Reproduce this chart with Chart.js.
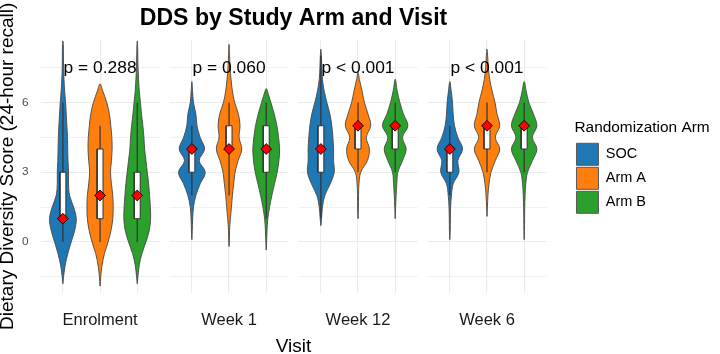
<!DOCTYPE html>
<html>
<head>
<meta charset="utf-8">
<script src="https://cdn.jsdelivr.net/npm/chart.js@4.4.1/dist/chart.umd.min.js"></script>
<style>
  html, body { margin: 0; padding: 0; background: #fff; }
  #wrap { width: 720px; height: 354px; }
</style>
</head>
<body>
<div id="wrap"><canvas id="chart"></canvas></div>
<script>
// ── DATA ──────────────────────────────────────────────────────────────────────
const visits  = ['Enrolment', 'Week 1', 'Week 12', 'Week 6'];
const arms    = ['SOC', 'Arm A', 'Arm B'];
const pLabels = ['p = 0.288', 'p = 0.060', 'p < 0.001', 'p < 0.001'];
const pLabelY = 7.5;
const yTicks  = [-1.5, 0, 1.5, 3, 4.5, 6, 7.5];
const yLabelled = [0, 3, 6];

// box plot stats, [arm][visit]
const medians = [[1, 4, 4, 4], [2, 4, 5, 5], [2, 4, 5, 5]];
const q1      = [[1, 3, 3, 3], [1, 4, 4, 4], [1, 3, 4, 4]];
const q3      = [[3, 4, 5, 4], [4, 5, 5, 5], [3, 5, 5, 5]];
const whiskLo = [[0, 2, 1, 2], [0, 2, 3, 3], [0, 1, 3, 3]];
const whiskHi = [[6, 5, 8, 5], [5, 6, 6, 6], [6, 6, 6, 6]];

// violin extents (tail ends), [arm][visit]
const tailLo = [[-1.8, 0.1, 0.7, 0.1], [-1.9, -0.2, 1.0, 1.1], [-1.8, -0.35, 1.0, 0.1]];
const tailHi = [[8.65, 6.9, 8.3, 6.9], [6.8, 8.5, 7.3, 8.3], [8.65, 6.6, 7.0, 6.9]];

// relative violin width read at each y level, [arm][visit][level]
const densityY = [-2, -1.5, -1, -0.5, 0, 0.5, 1, 1.5, 2, 2.5, 3, 3.5, 4, 4.5, 5, 5.5, 6, 6.5, 7, 7.5, 8, 8.5];
const densSOC = [
  [0, .05, .17, .37, .62, .88, 1.0, .8, .5, .42, .42, .38, .36, .34, .3, .25, .2, .13, .08, .05, .04, .03],
  [0, 0, 0, 0, .02, .03, .06, .12, .3, .62, 1.0, .55, .95, .62, .38, .3, .12, .05, 0, 0, 0, 0],
  [0, 0, 0, 0, 0, 0, .05, .12, .3, .7, 1.0, .95, .95, .9, .82, .68, .45, .25, .12, .07, .04, 0],
  [0, 0, 0, 0, .02, .03, .04, .06, .12, .25, .68, .6, .95, .6, .35, .25, .2, .1, 0, 0, 0, 0]
];
const densA = [
  [0, .05, .15, .33, .6, .82, .95, .98, .95, .85, .78, .85, .9, .88, .8, .7, .5, .2, 0, 0, 0, 0],
  [0, 0, 0, 0, .02, .04, .1, .18, .25, .35, .45, .68, .95, .75, .82, .7, .42, .25, .15, .08, .04, 0],
  [0, 0, 0, 0, 0, 0, 0, .03, .04, .07, .2, .7, .85, .62, .95, .75, .48, .3, .1, 0, 0, 0],
  [0, 0, 0, 0, 0, 0, 0, .03, .07, .15, .3, .62, .95, .62, .95, .75, .6, .38, .2, .1, .05, 0]
];
const densB = [
  [0, .05, .15, .35, .65, .9, 1.0, .98, .92, .85, .75, .65, .55, .5, .42, .32, .24, .15, .1, .06, .04, .02],
  [0, 0, 0, 0, .03, .06, .12, .25, .42, .62, .82, .95, 1.0, .92, .8, .6, .35, .08, 0, 0, 0, 0],
  [0, 0, 0, 0, 0, 0, 0, .03, .07, .12, .2, .55, .82, .55, .95, .62, .35, .15, 0, 0, 0, 0],
  [0, 0, 0, 0, 0, .02, .03, .04, .07, .12, .25, .62, .95, .62, .95, .7, .35, .15, 0, 0, 0, 0]
];
const densities = [densSOC, densA, densB];

// ── STYLE / LAYOUT ────────────────────────────────────────────────────────────
const armColors   = ['#1f77b4', '#ff7f0e', '#2ca02c'];
const PANEL_W     = 3.2;   // discrete x range 0.4..3.6 per facet
const GAP         = 0.27;  // spacing between facets
const VIOLIN_HALF = 0.36;
const BOX_HALF    = 0.08;
const FONT        = "'Liberation Sans', Arial, sans-serif";

const armX = (v, a) => v * (PANEL_W + GAP) + 0.6 + a;
const X_MAX = 3 * (PANEL_W + GAP) + PANEL_W;

// ── DATASETS ──────────────────────────────────────────────────────────────────
const datasets = [];

// diamonds at the median (drawn on top: lowest order)
const diamondPts = [];
visits.forEach((v, vi) => arms.forEach((a, ai) => diamondPts.push({ x: armX(vi, ai), y: medians[ai][vi] })));
datasets.push({
  label: 'median', data: diamondPts, showLine: false, order: 1,
  pointStyle: 'rectRot', pointRadius: 5.4, pointBackgroundColor: '#ff0000',
  pointBorderColor: '#000', pointBorderWidth: 0.9
});

visits.forEach((v, vi) => {
  arms.forEach((a, ai) => {
    const cx = armX(vi, ai);

    // violin outline: bottom tip, right side up, top tip, left side down
    const dens = densities[ai][vi];
    const lo = tailLo[ai][vi], hi = tailHi[ai][vi];
    const right = [], left = [];
    densityY.forEach((y, i) => {
      if (y > lo && y < hi) {
        right.push({ x: cx + dens[i] * VIOLIN_HALF, y });
        left.unshift({ x: cx - dens[i] * VIOLIN_HALF, y });
      }
    });
    datasets.push({
      label: a + ' ' + v, order: 4,
      data: [{ x: cx, y: lo }, ...right, { x: cx, y: hi }, ...left, { x: cx, y: lo }],
      fill: 'shape', backgroundColor: armColors[ai],
      borderColor: '#474747', borderWidth: 0.9, tension: 0.35, pointRadius: 0
    });

    // whisker
    datasets.push({
      label: 'whisker', order: 3,
      data: [{ x: cx, y: whiskLo[ai][vi] }, { x: cx, y: whiskHi[ai][vi] }],
      borderColor: '#333', borderWidth: 1.2, pointRadius: 0, fill: false
    });

    // box
    const b0 = q1[ai][vi], b1 = q3[ai][vi];
    datasets.push({
      label: 'box', order: 2,
      data: [
        { x: cx - BOX_HALF, y: b0 }, { x: cx + BOX_HALF, y: b0 },
        { x: cx + BOX_HALF, y: b1 }, { x: cx - BOX_HALF, y: b1 },
        { x: cx - BOX_HALF, y: b0 }
      ],
      fill: 'shape', backgroundColor: '#fff',
      borderColor: '#333', borderWidth: 1, tension: 0, pointRadius: 0
    });
  });
});

// ── PLUGINS ───────────────────────────────────────────────────────────────────
// blank the facet gaps so grid lines stay inside each panel
const panelGaps = {
  id: 'panelGaps',
  beforeDatasetsDraw(chart) {
    const { ctx, chartArea: { top, bottom }, scales: { x } } = chart;
    ctx.save();
    ctx.fillStyle = '#fff';
    for (let k = 0; k < visits.length - 1; k++) {
      const x0 = x.getPixelForValue(k * (PANEL_W + GAP) + PANEL_W);
      const x1 = x.getPixelForValue((k + 1) * (PANEL_W + GAP));
      ctx.fillRect(x0, top - 1, x1 - x0, bottom - top + 2);
    }
    ctx.restore();
  }
};

// let the legend box run to the canvas edge so its title is not clipped
const legendToEdge = {
  id: 'legendToEdge',
  afterLayout(chart) {
    const lg = chart.legend;
    if (lg) { lg.right = chart.width; lg.width = lg.right - lg.left; }
  }
};

const pValueText = {
  id: 'pValueText',
  afterDatasetsDraw(chart) {
    const { ctx, scales: { x, y } } = chart;
    ctx.save();
    ctx.font = `17.4px ${FONT}`;
    ctx.fillStyle = '#000';
    ctx.textAlign = 'center';
    ctx.textBaseline = 'middle';
    pLabels.forEach((t, vi) => ctx.fillText(t, x.getPixelForValue(armX(vi, 1)), y.getPixelForValue(pLabelY) + 1));
    ctx.restore();
  }
};

// ── CHART ─────────────────────────────────────────────────────────────────────
Chart.defaults.font.family = FONT;
const armTicks = [];
visits.forEach((v, vi) => arms.forEach((a, ai) => armTicks.push(armX(vi, ai))));

new Chart(document.getElementById('chart'), {
  type: 'line',
  data: { datasets },
  plugins: [panelGaps, legendToEdge, pValueText],
  options: {
    responsive: true, maintainAspectRatio: false, animation: false, events: [],
    layout: { padding: { left: 0, right: 64, top: 0, bottom: 0 } },
    scales: {
      x: {
        type: 'linear', min: 0, max: X_MAX,
        afterBuildTicks: s => { s.ticks = armTicks.map(value => ({ value })); },
        afterFit: s => { s.height = 60.7; },
        grid: { color: '#ebebeb', lineWidth: 1.1, drawTicks: false },
        border: { display: false },
        ticks: {
          autoSkip: false, maxRotation: 0, padding: 17,
          color: '#1a1a1a', font: { size: 16.5 },
          callback: (val, i) => (i % 3 === 1 ? visits[Math.floor(i / 3)] : '')
        },
        title: { display: true, text: 'Visit', color: '#000', font: { size: 19, lineHeight: 0.75 }, padding: 0 }
      },
      y: {
        type: 'linear', min: -2.21, max: 8.72,
        afterBuildTicks: s => { s.ticks = yTicks.map(value => ({ value })); },
        afterFit: s => { s.width = 40.6; },
        grid: {
          color: '#ebebeb', drawTicks: false,
          lineWidth: c => (yLabelled.includes(c.tick.value) ? 1.1 : 0.7)
        },
        border: { display: false },
        ticks: {
          padding: 12, color: '#4d4d4d', font: { size: 11.8 },
          callback: v => (yLabelled.includes(v) ? String(v) : '')
        },
        title: {
          display: true, text: 'Dietary Diversity Score (24-hour recall)', color: '#000',
          font: { size: 19, lineHeight: 0.78 }, padding: 0
        }
      },
      yPad: {
        type: 'linear', position: 'right', display: true,
        grid: { display: false }, border: { display: false }, ticks: { display: false },
        afterFit: s => { s.width = 28; }
      }
    },
    plugins: {
      tooltip: { enabled: false },
      title: {
        display: true, text: 'DDS by Study Arm and Visit', fullSize: false,
        color: '#000', font: { size: 23.1, weight: 'bold' }, padding: { top: 4.6, bottom: 7 }
      },
      legend: {
        position: 'right', fullSize: false, align: 'center',
        title: {
          display: true, text: 'Randomization Arm', position: 'start', color: '#000',
          font: { size: 15.4 }, padding: { top: 2.75, bottom: 2.75 }
        },
        labels: {
          boxWidth: 22, boxHeight: 22, padding: 2, color: '#000', font: { size: 14.5 },
          generateLabels: () => arms.map((a, i) => ({
            text: a, fillStyle: armColors[i], strokeStyle: '#595959', lineWidth: 1, hidden: false, index: i
          }))
        }
      }
    }
  }
});
</script>
</body>
</html>
